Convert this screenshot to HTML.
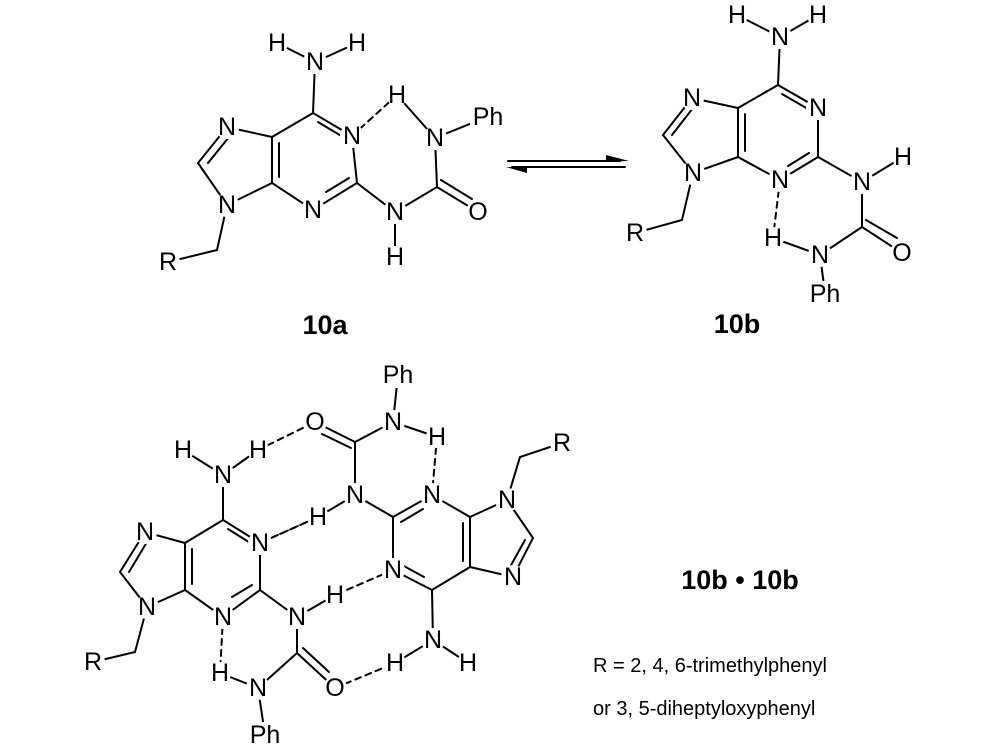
<!DOCTYPE html>
<html><head><meta charset="utf-8"><style>
html,body{margin:0;padding:0;background:#fff;}
svg{display:block;}
text{font-family:"Liberation Sans",sans-serif;fill:#000;}
.a{font-size:25px;text-anchor:middle;dominant-baseline:central;}
.b{font-size:27px;font-weight:bold;text-anchor:middle;dominant-baseline:central;}
.l{font-size:20px;}
</style></head><body>
<svg width="1000" height="755" viewBox="0 0 1000 755" xmlns="http://www.w3.org/2000/svg">
<g stroke="#000" stroke-width="2" fill="none" stroke-linecap="round">
<!-- 10a -->
<path d="M277,43L315,62L357,43 M315,62L313,113L352,136L357,183L313,210L272,183L272,137L313,113 M272,137L227,127L198,163L227,205L272,183 M227,205L217,250L168,262 M357,183L395,212L395,257 M395,212L437,187L478,212 M437,187L435,138L487,117 M435,138L397,95"/>
<path d="M318,122L343,137 M349,178L326,192 M279,143L279,177 M229,137L208,163 M441,180L472,199"/>
<path d="M397,95L352,136" stroke-dasharray="6,5"/>
<!-- 10b -->
<path d="M737,15L780,37L818,15 M780,37L778,85L818,108L818,157L780,180L738,157L738,108L778,85 M738,108L692,98L663,135L693,173L738,157 M693,173L682,220L635,233 M818,157L862,182L903,157 M862,182L862,227L902,253 M862,227L820,255L773,238 M820,255L825,293"/>
<path d="M782,94L808,109 M809,153L788,166 M745,114L745,151 M693,108L672,135 M866,220L897,238"/>
<path d="M780,180L773,238" stroke-dasharray="6,5"/>
<!-- bottom left -->
<path d="M183,450L223,475L258,450 M223,475L223,520L260,543L260,590L223,617L185,590L185,543L223,520 M185,543L145,532L120,572L147,607L185,590 M147,607L135,652L93,662 M260,590L297,617L335,595 M297,617L297,653L335,688 M297,653L258,688L220,673 M258,688L265,735"/>
<path d="M228,529L252,544 M252,585L232,597 M192,549L192,584 M147,542L129,572 M303,648L329,672"/>
<path d="M258,450L315,422 M260,543L318,517 M223,617L220,673 M335,688L395,663" stroke-dasharray="6,5"/>
<!-- bottom right -->
<path d="M398,375L393,422L437,437 M393,422L355,442L315,422 M355,442L355,495L318,517 M355,495L393,517L432,495L470,517L470,567L432,590L393,570L393,517 M470,517L507,500L533,538L513,577L470,567 M507,500L520,457L562,443 M432,590L433,640L395,663 M433,640L468,663"/>
<path d="M401,522L423,509 M402,565L424,577 M463,523L463,561 M525,540L510,567 M351,448L322,434"/>
<path d="M437,437L432,495 M318,517L260,543 M393,570L335,595" stroke-dasharray="6,5"/>
<!-- arrows -->
<path d="M508,161L620,161 M512,167L625,167"/>
</g>
<path d="M606,155L629,161L606,162Z M506,167L527,167L527,173Z" fill="#000"/>
<g fill="#fff">
<circle cx="277" cy="43" r="11"/><circle cx="357" cy="43" r="11"/><circle cx="315" cy="62" r="12"/><circle cx="352" cy="136" r="12"/><circle cx="313" cy="210" r="12"/><circle cx="227" cy="127" r="12"/><circle cx="227" cy="205" r="12"/><circle cx="168" cy="262" r="12"/><circle cx="395" cy="212" r="12"/><circle cx="395" cy="257" r="11"/><circle cx="478" cy="212" r="12"/><circle cx="435" cy="138" r="12"/><circle cx="397" cy="95" r="11"/><rect x="470" y="104" width="36" height="26"/>
<circle cx="737" cy="15" r="11"/><circle cx="818" cy="15" r="11"/><circle cx="780" cy="37" r="12"/><circle cx="818" cy="108" r="12"/><circle cx="780" cy="180" r="12"/><circle cx="692" cy="98" r="12"/><circle cx="693" cy="173" r="12"/><circle cx="635" cy="233" r="12"/><circle cx="862" cy="182" r="12"/><circle cx="903" cy="157" r="11"/><circle cx="902" cy="253" r="12"/><circle cx="820" cy="255" r="12"/><circle cx="773" cy="238" r="11"/><rect x="807" y="281" width="36" height="26"/>
<circle cx="183" cy="450" r="11"/><circle cx="258" cy="450" r="11"/><circle cx="223" cy="475" r="12"/><circle cx="260" cy="543" r="12"/><circle cx="223" cy="617" r="12"/><circle cx="145" cy="532" r="12"/><circle cx="147" cy="607" r="12"/><circle cx="93" cy="662" r="12"/><circle cx="297" cy="617" r="12"/><circle cx="335" cy="595" r="11"/><circle cx="335" cy="688" r="12"/><circle cx="258" cy="688" r="12"/><circle cx="220" cy="673" r="11"/><rect x="247" y="722" width="36" height="26"/>
<rect x="380" y="362" width="36" height="26"/><circle cx="393" cy="422" r="12"/><circle cx="437" cy="437" r="11"/><circle cx="315" cy="422" r="12"/><circle cx="355" cy="495" r="12"/><circle cx="318" cy="517" r="11"/><circle cx="432" cy="495" r="12"/><circle cx="393" cy="570" r="12"/><circle cx="507" cy="500" r="12"/><circle cx="513" cy="577" r="12"/><circle cx="562" cy="443" r="12"/><circle cx="433" cy="640" r="12"/><circle cx="395" cy="663" r="11"/><circle cx="468" cy="663" r="11"/>
</g>
<g class="a">
<text x="277" y="43" class="a">H</text><text x="357" y="43" class="a">H</text><text x="315" y="62" class="a">N</text><text x="352" y="136" class="a">N</text><text x="313" y="210" class="a">N</text><text x="227" y="127" class="a">N</text><text x="227" y="205" class="a">N</text><text x="168" y="262" class="a">R</text><text x="395" y="212" class="a">N</text><text x="395" y="257" class="a">H</text><text x="478" y="212" class="a">O</text><text x="435" y="138" class="a">N</text><text x="397" y="95" class="a">H</text><text x="488" y="117" class="a">Ph</text>
<text x="737" y="15" class="a">H</text><text x="818" y="15" class="a">H</text><text x="780" y="37" class="a">N</text><text x="818" y="108" class="a">N</text><text x="780" y="180" class="a">N</text><text x="692" y="98" class="a">N</text><text x="693" y="173" class="a">N</text><text x="635" y="233" class="a">R</text><text x="862" y="182" class="a">N</text><text x="903" y="157" class="a">H</text><text x="902" y="253" class="a">O</text><text x="820" y="255" class="a">N</text><text x="773" y="238" class="a">H</text><text x="825" y="294" class="a">Ph</text>
<text x="183" y="450" class="a">H</text><text x="258" y="450" class="a">H</text><text x="223" y="475" class="a">N</text><text x="260" y="543" class="a">N</text><text x="223" y="617" class="a">N</text><text x="145" y="532" class="a">N</text><text x="147" y="607" class="a">N</text><text x="93" y="662" class="a">R</text><text x="297" y="617" class="a">N</text><text x="335" y="595" class="a">H</text><text x="335" y="688" class="a">O</text><text x="258" y="688" class="a">N</text><text x="220" y="673" class="a">H</text><text x="265" y="735" class="a">Ph</text>
<text x="398" y="375" class="a">Ph</text><text x="393" y="422" class="a">N</text><text x="437" y="437" class="a">H</text><text x="315" y="422" class="a">O</text><text x="355" y="495" class="a">N</text><text x="318" y="517" class="a">H</text><text x="432" y="495" class="a">N</text><text x="393" y="570" class="a">N</text><text x="507" y="500" class="a">N</text><text x="513" y="577" class="a">N</text><text x="562" y="443" class="a">R</text><text x="433" y="640" class="a">N</text><text x="395" y="663" class="a">H</text><text x="468" y="663" class="a">H</text>
</g>
<text x="325" y="325" class="b">10a</text>
<text x="737" y="324" class="b">10b</text>
<text x="740" y="580" class="b">10b • 10b</text>
<text x="593" y="672" class="l">R = 2, 4, 6-trimethylphenyl</text>
<text x="593" y="715" class="l">or 3, 5-diheptyloxyphenyl</text>
</svg>
</body></html>
